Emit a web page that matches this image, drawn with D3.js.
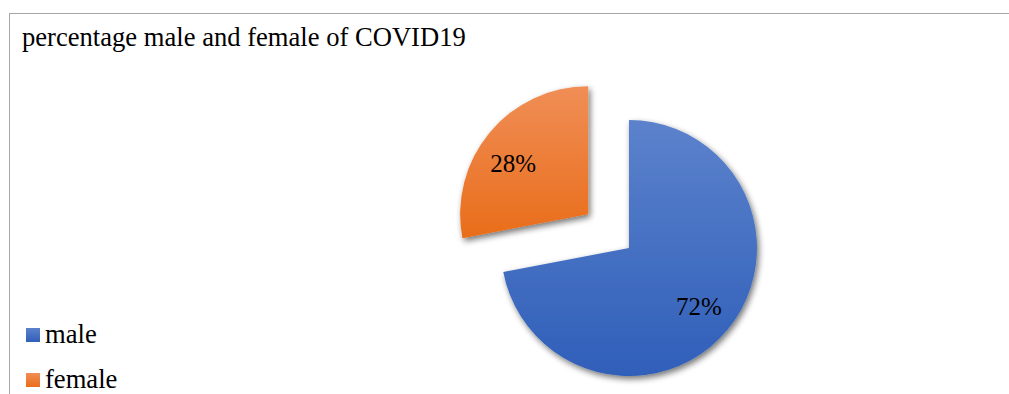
<!DOCTYPE html>
<html>
<head>
<meta charset="utf-8">
<script src="https://cdn.jsdelivr.net/npm/d3@7"></script>
<style>
  html, body { margin: 0; padding: 0; background: #fff; overflow: hidden; }
  svg { display: block; }
</style>
</head>
<body>
<svg id="chart" width="1009" height="394"></svg>
<script>
// Share of COVID-19 cases by sex
const categories = ["male", "female"];
const values = [72, 28];
const labels = ["72%", "28%"];
const title = "percentage male and female of COVID19";

const W = 1009, H = 394;
const FONT = "Liberation Serif";
const svg = d3.select("#chart");

const defs = svg.append("defs");

// vertical gradients: lighter at the top, deeper at the bottom
const gradStops = {
  male:   ["#5c82cc", "#2f5fb9"],
  female: ["#f08e56", "#e96d1a"]
};
categories.forEach(c => {
  const g = defs.append("linearGradient")
    .attr("id", "grad-" + c)
    .attr("x1", 0).attr("y1", 0).attr("x2", 0).attr("y2", 1);
  g.append("stop").attr("offset", "0%").attr("stop-color", gradStops[c][0]);
  g.append("stop").attr("offset", "100%").attr("stop-color", gradStops[c][1]);
});

// soft outer shadow under the slices
const f = defs.append("filter").attr("id", "shadow")
  .attr("x", "-20%").attr("y", "-20%").attr("width", "140%").attr("height", "140%");
f.append("feGaussianBlur").attr("in", "SourceAlpha").attr("stdDeviation", 3).attr("result", "b");
f.append("feOffset").attr("in", "b").attr("dx", 2).attr("dy", 3).attr("result", "o");
f.append("feComponentTransfer").attr("in", "o").attr("result", "s")
  .append("feFuncA").attr("type", "linear").attr("slope", 0.55);
const m = f.append("feMerge");
m.append("feMergeNode").attr("in", "s");
m.append("feMergeNode").attr("in", "SourceGraphic");

// chart frame (runs past the right and bottom edges)
svg.append("rect")
  .attr("x", 9.5).attr("y", 13.5)
  .attr("width", W + 20).attr("height", H + 20)
  .attr("fill", "none").attr("stroke", "#a6a6a6").attr("stroke-width", 1);

svg.append("text")
  .attr("x", 22).attr("y", 46)
  .attr("font-family", FONT)
  .attr("font-size", 26.6)
  .attr("fill", "#000")
  .text(title);

// pie
const cx = 629, cy = 248, r = 128, explode = 53;
const pie = d3.pie().sort(null).value(d => d.value);
const arc = d3.arc().innerRadius(0).outerRadius(r);
const data = pie(categories.map((c, i) => ({ cat: c, value: values[i], label: labels[i] })));

const slices = svg.append("g").attr("transform", `translate(${cx},${cy})`);

const sliceOffset = d => {
  if (d.data.cat !== "female") return [0, 0];
  const a = (d.startAngle + d.endAngle) / 2;
  return [Math.sin(a) * explode, -Math.cos(a) * explode];
};

const sg = slices.selectAll("g.slice").data(data).join("g")
  .attr("class", "slice")
  .attr("transform", d => `translate(${sliceOffset(d)})`);

sg.append("path")
  .attr("d", arc)
  .attr("fill", d => `url(#grad-${d.data.cat})`)
  .attr("filter", "url(#shadow)");

// value labels, placed a little outside the mid-radius
const labelR = r * 0.71;
sg.append("text")
  .attr("transform", d => {
    const a = (d.startAngle + d.endAngle) / 2 - (d.data.cat === "female" ? 0.09 : 0);
    return `translate(${Math.sin(a) * labelR},${-Math.cos(a) * labelR})`;
  })
  .attr("text-anchor", "middle")
  .attr("dy", "0.35em")
  .attr("font-family", FONT)
  .attr("font-size", 25)
  .attr("fill", "#000")
  .text(d => d.data.label);

// legend
const legend = svg.append("g").attr("transform", "translate(26,328)");
const li = legend.selectAll("g").data(categories).join("g")
  .attr("transform", (d, i) => `translate(0,${i * 45})`);
li.append("rect").attr("width", 14).attr("height", 14)
  .attr("fill", d => `url(#grad-${d})`);
li.append("text").attr("x", 19).attr("y", 15)
  .attr("font-family", FONT)
  .attr("font-size", 26.6)
  .attr("fill", "#000")
  .text(d => d);
</script>
</body>
</html>
